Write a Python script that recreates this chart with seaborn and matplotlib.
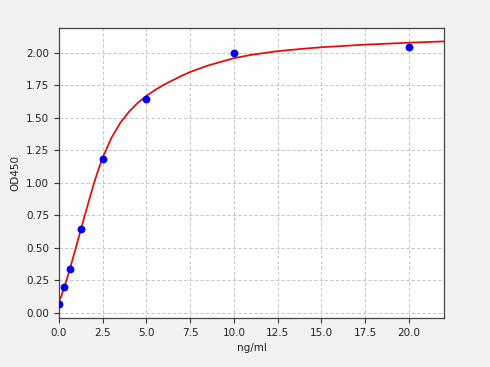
import matplotlib
matplotlib.use("Agg")
import matplotlib.pyplot as plt
import seaborn as sns
import pandas as pd

# Standard points
conc = [0, 0.3125, 0.625, 1.25, 2.5, 5, 10, 20]
od = [0.065, 0.196, 0.334, 0.642, 1.18, 1.646, 1.998, 2.045]

# Fitted curve
curve_x = [0, 0.15, 0.3125, 0.47, 0.625, 0.9375, 1.25, 1.5, 1.75, 2.0, 2.25, 2.5,
           3.0, 3.5, 4.0, 4.5, 5.0, 5.5, 6.0, 7.0, 7.5, 8.5, 10, 11, 12.5,
           14, 15, 17.5, 20, 22]
curve_y = [0.085, 0.136, 0.201, 0.269, 0.339, 0.487, 0.640, 0.761, 0.880, 0.995,
           1.101, 1.195, 1.346, 1.460, 1.546, 1.614, 1.668, 1.714, 1.754, 1.822,
           1.852, 1.901, 1.958, 1.984, 2.012, 2.031, 2.042, 2.062, 2.077, 2.087]

pts = pd.DataFrame({"x": conc, "y": od})
crv = pd.DataFrame({"x": curve_x, "y": curve_y})

sns.set_style("white")
plt.rcParams["font.family"] = ["DejaVu Sans"]

fig = plt.figure(figsize=(4.9, 3.67), dpi=100, facecolor="#f2f2f2")
ax = fig.add_axes([0.1204, 0.1335, 0.7857, 0.7902])
ax.set_facecolor("white")

sns.lineplot(data=crv, x="x", y="y", ax=ax, color="#e01010", linewidth=1.3,
             sort=True, estimator=None, zorder=2)
sns.scatterplot(data=pts, x="x", y="y", ax=ax, color="#0000ee", s=32,
                edgecolor="#0000ee", linewidth=0, zorder=3, clip_on=True)

ax.set_xlim(0, 22)
ax.set_ylim(-0.04, 2.19)
ax.set_xticks([0, 2.5, 5, 7.5, 10, 12.5, 15, 17.5, 20])
ax.set_xticklabels(["0.0", "2.5", "5.0", "7.5", "10.0", "12.5", "15.0", "17.5", "20.0"])
ax.set_yticks([0, 0.25, 0.5, 0.75, 1.0, 1.25, 1.5, 1.75, 2.0])
ax.set_yticklabels(["0.00", "0.25", "0.50", "0.75", "1.00", "1.25", "1.50", "1.75", "2.00"])
ax.grid(True, linestyle=(0, (4, 2.5)), color="#bdbdbd", linewidth=0.6)
ax.set_axisbelow(True)
ax.tick_params(axis="both", which="both", labelsize=7.5, length=3.5, width=0.8,
               direction="out", bottom=True, left=True, colors="#333333",
               labelcolor="#222222")
for s in ax.spines.values():
    s.set_color("#444444")
    s.set_linewidth(0.9)
ax.set_xlabel("ng/ml", fontsize=7.5, color="#222222")
ax.set_ylabel("OD450", fontsize=7.5, color="#222222")

fig.savefig("out.png", dpi=100, facecolor=fig.get_facecolor())
